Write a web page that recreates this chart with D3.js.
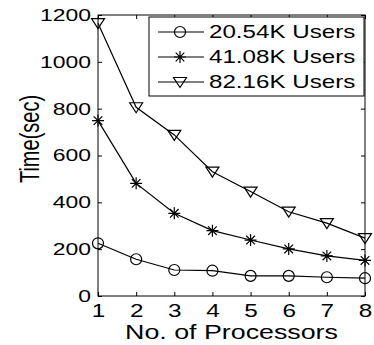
<!DOCTYPE html>
<html>
<head>
<meta charset="utf-8">
<script src="https://cdn.jsdelivr.net/npm/d3@7"></script>
<style>
  html, body { margin: 0; padding: 0; background: #fff; }
  svg { display: block; font-family: "Liberation Sans", Arial, sans-serif; }
</style>
</head>
<body>
<svg id="chart" width="374" height="345"></svg>
<script>
// Processor counts on the x axis
const processors = [1, 2, 3, 4, 5, 6, 7, 8];
// Run time (seconds) for each user-set size
const users20k = [225, 157, 111, 108, 86, 86, 80, 76];
const users41k = [749, 481, 353, 279, 239, 201, 171, 152];
const users82k = [1165, 806, 688, 531, 446, 360, 311, 247];
const seriesNames = ["20.54K Users", "41.08K Users", "82.16K Users"];
const markerKinds = ["circle", "star", "triangle"];
const yTicks = [0, 200, 400, 600, 800, 1000, 1200];

const series = [users20k, users41k, users82k].map((vals, i) => ({
  name: seriesNames[i],
  marker: markerKinds[i],
  points: processors.map((p, j) => ({ x: p, y: vals[j] }))
}));

const svg = d3.select("#chart");
const plotLeft = 98, plotRight = 365, plotTop = 15, plotBottom = 296;
const stretch = 1.35; // wide lettering

const x = d3.scaleLinear().domain([1, 8]).range([plotLeft, plotRight]);
const y = d3.scaleLinear().domain([0, 1200]).range([plotBottom, plotTop]);

// Marker shapes
function markerPath(kind) {
  if (kind === "circle") return d3.arc()({ innerRadius: 0, outerRadius: 5.5, startAngle: 0, endAngle: 2 * Math.PI });
  if (kind === "triangle") return "M-6.5,-4.5L6.5,-4.5L0,5.5Z";
  return "M-6,0H6M0,-6V6M-4.3,-4.3L4.3,4.3M-4.3,4.3L4.3,-4.3";
}

// Frame
svg.append("rect")
  .attr("x", plotLeft).attr("y", plotTop)
  .attr("width", plotRight - plotLeft).attr("height", plotBottom - plotTop)
  .attr("fill", "none").attr("stroke", "#000").attr("stroke-width", 1);

// Axes with inward ticks
const fontTick = 17;
const gx = svg.append("g").attr("transform", `translate(0,${plotBottom})`)
  .call(d3.axisBottom(x).ticks(8).tickFormat(d3.format("d")).tickSizeInner(-4).tickSizeOuter(0).tickPadding(8));
const gy = svg.append("g").attr("transform", `translate(${plotLeft},0)`)
  .call(d3.axisLeft(y).tickValues(yTicks).tickFormat(d3.format("d")).tickSizeInner(-4).tickSizeOuter(0).tickPadding(5));
const gt = svg.append("g").attr("transform", `translate(0,${plotTop})`)
  .call(d3.axisTop(x).ticks(8).tickFormat("").tickSizeInner(-4).tickSizeOuter(0));
const gr = svg.append("g").attr("transform", `translate(${plotRight},0)`)
  .call(d3.axisRight(y).tickValues(yTicks).tickFormat("").tickSizeInner(-4).tickSizeOuter(0));

[gx, gy, gt, gr].forEach(g => {
  g.select(".domain").remove();
  g.selectAll(".tick line").attr("stroke", "#000");
});
gx.selectAll(".tick text")
  .attr("font-size", fontTick + 1).attr("fill", "#000")
  .attr("font-family", "Liberation Sans, Arial, sans-serif")
  .attr("transform", `scale(${stretch},1)`);
gy.selectAll(".tick text")
  .attr("font-size", fontTick).attr("fill", "#000")
  .attr("font-family", "Liberation Sans, Arial, sans-serif")
  .attr("x", -7 / stretch)
  .attr("transform", `scale(${stretch},1)`);

// Series lines and markers
const line = d3.line().x(d => x(d.x)).y(d => y(d.y));
series.forEach(s => {
  svg.append("path").datum(s.points)
    .attr("d", line).attr("fill", "none")
    .attr("stroke", "#000").attr("stroke-width", 1.2);
  svg.append("g").selectAll("path").data(s.points).join("path")
    .attr("transform", d => `translate(${x(d.x)},${y(d.y)})`)
    .attr("d", markerPath(s.marker))
    .attr("fill", "none").attr("stroke", "#000").attr("stroke-width", 1.2);
});

// Axis titles
svg.append("text")
  .attr("transform", `translate(231.5,332) scale(1.34,1)`)
  .attr("text-anchor", "middle").attr("dy", "0.35em")
  .attr("font-size", 20).attr("fill", "#000")
  .text("No. of Processors");
svg.append("text")
  .attr("transform", `translate(30,139) rotate(-90) scale(1,1.35)`)
  .attr("text-anchor", "middle").attr("dy", "0.35em")
  .attr("font-size", 20).attr("fill", "#000")
  .text("Time(sec)");

// Legend
const legend = svg.append("g");
legend.append("rect")
  .attr("x", 149).attr("y", 17).attr("width", 215).attr("height", 79)
  .attr("fill", "#fff").attr("stroke", "#000").attr("stroke-width", 1);
series.forEach((s, i) => {
  const ry = 32 + i * 25;
  legend.append("line")
    .attr("x1", 158).attr("x2", 204).attr("y1", ry).attr("y2", ry)
    .attr("stroke", "#000").attr("stroke-width", 1.2);
  legend.append("path")
    .attr("transform", `translate(180,${ry})`)
    .attr("d", markerPath(s.marker))
    .attr("fill", "none").attr("stroke", "#000").attr("stroke-width", 1.2);
  legend.append("text")
    .attr("transform", `translate(209,${ry}) scale(1.38,1)`)
    .attr("dy", "0.35em").attr("font-size", 17.5).attr("fill", "#000")
    .text(s.name);
});
</script>
</body>
</html>
